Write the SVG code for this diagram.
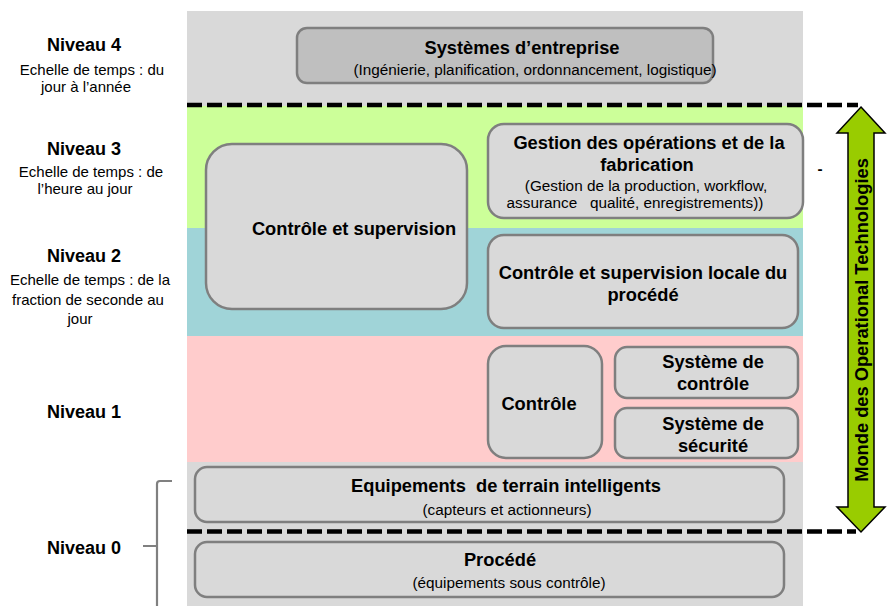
<svg xmlns="http://www.w3.org/2000/svg" width="892" height="606" viewBox="0 0 892 606">
  <style>
    text { font-family: "Liberation Sans", Arial, sans-serif; fill: #000; text-anchor: middle; }
    .lvl { font-size: 18px; font-weight: bold; }
    .scale { font-size: 15px; }
    .title { font-size: 18.3px; font-weight: bold; }
    .sub { font-size: 15.3px; }
    .box { fill: #d9d9d9; stroke: #7f7f7f; stroke-width: 2.5; }
    .dash { stroke: #000; stroke-width: 4.5; stroke-dasharray: 15 5; fill: none; }
  </style>

  <!-- layer bands -->
  <rect x="187" y="11" width="616" height="595" fill="#d9d9d9"/>
  <rect x="187" y="106" width="616" height="122" fill="#ccff99"/>
  <rect x="187" y="228" width="616" height="108" fill="#a0d4d8"/>
  <rect x="187" y="336" width="616" height="126" fill="#ffcccc"/>

  <!-- level labels -->
  <g id="labels">
    <text class="lvl" x="84" y="51">Niveau 4</text>
    <text class="scale" x="92" y="75">Echelle de temps : du</text>
    <text class="scale" x="86" y="92">jour à l’année</text>
    <text class="lvl" x="84" y="155">Niveau 3</text>
    <text class="scale" x="91" y="177">Echelle de temps : de</text>
    <text class="scale" x="85" y="194">l’heure au jour</text>
    <text class="lvl" x="84" y="262">Niveau 2</text>
    <text class="scale" x="90" y="285">Echelle de temps : de la</text>
    <text class="scale" x="88" y="305">fraction de seconde au</text>
    <text class="scale" x="80" y="324">jour</text>
    <text class="lvl" x="84" y="418">Niveau 1</text>
    <text class="lvl" x="84" y="554">Niveau 0</text>
  </g>

  <g id="entreprise">
    <rect x="297" y="28" width="416" height="55" rx="10" fill="#bfbfbf" stroke="#7f7f7f" stroke-width="2.5"/>
    <text class="title" x="522" y="54">Systèmes d’entreprise</text>
    <text class="sub" x="535" y="75">(Ingénierie, planification, ordonnancement, logistique)</text>
  </g>

  <g id="controle-supervision">
    <rect class="box" x="206" y="144" width="261" height="165" rx="26"/>
    <text class="title" x="354" y="235">Contrôle et supervision</text>
  </g>

  <g id="gestion">
    <rect class="box" x="488" y="124" width="315" height="94" rx="16"/>
    <text class="title" x="649" y="149">Gestion des opérations et de la</text>
    <text class="title" x="647" y="171">fabrication</text>
    <text class="sub" x="646" y="191">(Gestion de la production, workflow,</text>
    <text class="sub" x="635" y="208" xml:space="preserve">assurance   qualité, enregistrements))</text>
  </g>

  <g id="supervision-locale">
    <rect class="box" x="488" y="235" width="310" height="93" rx="16"/>
    <text class="title" x="643" y="279">Contrôle et supervision locale du</text>
    <text class="title" x="643" y="301">procédé</text>
  </g>

  <g id="controle">
    <rect class="box" x="488" y="346" width="114" height="112" rx="18"/>
    <text class="title" x="539" y="410">Contrôle</text>
  </g>

  <g id="systeme-controle">
    <rect class="box" x="615" y="347" width="183" height="51" rx="12"/>
    <text class="title" x="713" y="368">Système de</text>
    <text class="title" x="713" y="390">contrôle</text>
  </g>

  <g id="systeme-securite">
    <rect class="box" x="615" y="408" width="183" height="50" rx="12"/>
    <text class="title" x="713" y="430">Système de</text>
    <text class="title" x="713" y="452">sécurité</text>
  </g>

  <g id="equipements">
    <rect class="box" x="195" y="467" width="589" height="55" rx="12"/>
    <text class="title" x="506" y="492" xml:space="preserve">Equipements  de terrain intelligents</text>
    <text class="sub" x="507" y="515">(capteurs et actionneurs)</text>
  </g>

  <g id="procede">
    <rect class="box" x="195" y="542" width="589" height="55" rx="12"/>
    <text class="title" x="500" y="566">Procédé</text>
    <text class="sub" x="509" y="588">(équipements sous contrôle)</text>
  </g>

  <!-- dashed boundaries, brace and OT span arrow -->
  <g id="connectors">
    <line class="dash" x1="187" y1="105" x2="858" y2="105"/>
    <line class="dash" x1="187" y1="531.5" x2="856" y2="531.5"/>
    <path d="M172 481 L160 481 Q157 481 157 484 L157 606 M143 546 L157 546" fill="none" stroke="#808080" stroke-width="2.2"/>
    <path d="M861 107 L885 133 L874 133 L874 507 L885 507 L861 532 L837 507 L848 507 L848 133 L837 133 Z" fill="#99cc00" stroke="#000" stroke-width="1.5" stroke-linejoin="miter"/>
    <text class="title" font-size="17" transform="translate(868 320) rotate(-90)">Monde des Operational Technologies</text>
    <text class="sub" x="820" y="174" font-weight="bold">-</text>
  </g>
</svg>
